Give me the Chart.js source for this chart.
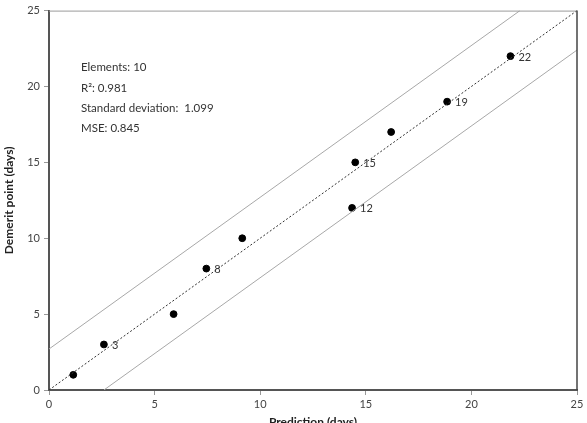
<!DOCTYPE html>
<html>
<head>
<meta charset="utf-8">
<script src="https://cdn.jsdelivr.net/npm/chart.js@4.4.1/dist/chart.umd.min.js"></script>
<style>
  html, body { margin: 0; padding: 0; background: #ffffff; }
  #wrap { width: 587px; height: 423px; }
</style>
</head>
<body>
<div id="wrap"><canvas id="c" width="587" height="423"></canvas></div>
<script>
// ---- data ----
const predictions = [1.15, 2.6, 5.9, 7.45, 9.15, 14.35, 14.5, 16.2, 18.85, 21.85];
const demerits    = [1, 3, 5, 8, 10, 12, 15, 17, 19, 22];
const pointLabels = ['', '3', '', '8', '', '12', '15', '', '19', '22'];
const identityLine = [[0, 0], [25, 25]];
const upperBound   = [[0, 2.7], [22.3, 25]];
const lowerBound   = [[2.6, 0], [25, 22.4]];
const statsLines   = ['Elements: 10', 'R\u00B2: 0.981', 'Standard deviation:  1.099', 'MSE: 0.845'];
const axisMin = 0, axisMax = 25, axisStep = 5;
const xTitle = 'Prediction (days)';
const yTitle = 'Demerit point (days)';

const toXY = arr => arr.map(p => ({ x: p[0], y: p[1] }));
const points = predictions.map((x, i) => ({ x: x, y: demerits[i] }));

const FONT = 'Lato, "Open Sans", sans-serif';

const annotPlugin = {
  id: 'annot',
  afterDatasetsDraw(chart) {
    const { ctx, chartArea: a, scales: { x, y } } = chart;
    ctx.save();
    // frame top & right
    ctx.strokeStyle = '#9a9a9a';
    ctx.lineWidth = 1;
    ctx.beginPath();
    ctx.moveTo(a.left, a.top + 0.5);
    ctx.lineTo(a.right, a.top + 0.5);
    ctx.stroke();
    ctx.strokeStyle = '#444';
    ctx.lineWidth = 1.5;
    ctx.beginPath();
    ctx.moveTo(a.right, a.top);
    ctx.lineTo(a.right, a.bottom);
    ctx.stroke();
    // point labels
    ctx.fillStyle = '#333';
    ctx.font = '11px ' + FONT;
    ctx.textAlign = 'left';
    ctx.textBaseline = 'middle';
    points.forEach((p, i) => {
      if (!pointLabels[i]) return;
      ctx.fillText(pointLabels[i], x.getPixelForValue(p.x) + 8, y.getPixelForValue(p.y) + 1);
    });
    // stats text
    ctx.font = '11.5px ' + FONT;
    ctx.fillStyle = '#333';
    statsLines.forEach((t, i) => {
      ctx.fillText(t, a.left + 32, a.top + 57 + i * 20.3);
    });
    ctx.restore();
  }
};

new Chart(document.getElementById('c'), {
  type: 'scatter',
  data: {
    datasets: [
      { data: toXY(upperBound), showLine: true, borderColor: '#a8a8a8', borderWidth: 1, pointRadius: 0, fill: false },
      { data: toXY(lowerBound), showLine: true, borderColor: '#a8a8a8', borderWidth: 1, pointRadius: 0, fill: false },
      { data: toXY(identityLine), showLine: true, borderColor: '#333', borderWidth: 1, borderDash: [2, 2], pointRadius: 0, fill: false },
      { data: points, backgroundColor: '#000', borderColor: '#000', pointRadius: 3.4, pointHoverRadius: 3.4 }
    ]
  },
  options: {
    responsive: false,
    animation: false,
    events: [],
    layout: { padding: { top: 7, right: 10, left: 0, bottom: 0 } },
    plugins: { legend: { display: false }, tooltip: { enabled: false } },
    scales: {
      x: {
        type: 'linear', min: axisMin, max: axisMax,
        afterFit(s) { s.height = 33; },
        ticks: { stepSize: axisStep, color: '#444', font: { family: FONT, size: 11 }, padding: 3, maxRotation: 0 },
        grid: { display: true, drawOnChartArea: false, tickLength: 5, tickColor: '#999' },
        border: { display: true, color: '#555', width: 2 },
        title: { display: true, text: xTitle, color: '#222', font: { family: FONT, size: 12, weight: 'bold' }, padding: { top: 0, bottom: -6 } }
      },
      y: {
        type: 'linear', min: axisMin, max: axisMax,
        afterFit(s) { s.width = 49; },
        ticks: { stepSize: axisStep, color: '#444', font: { family: FONT, size: 11 }, padding: 4 },
        grid: { display: true, drawOnChartArea: false, tickLength: 5, tickColor: '#999' },
        border: { display: true, color: '#555', width: 2 },
        title: { display: true, text: yTitle, color: '#222', font: { family: FONT, size: 12, weight: 'bold' }, padding: { top: 2, bottom: 0 } }
      }
    }
  },
  plugins: [annotPlugin]
});
</script>
</body>
</html>
